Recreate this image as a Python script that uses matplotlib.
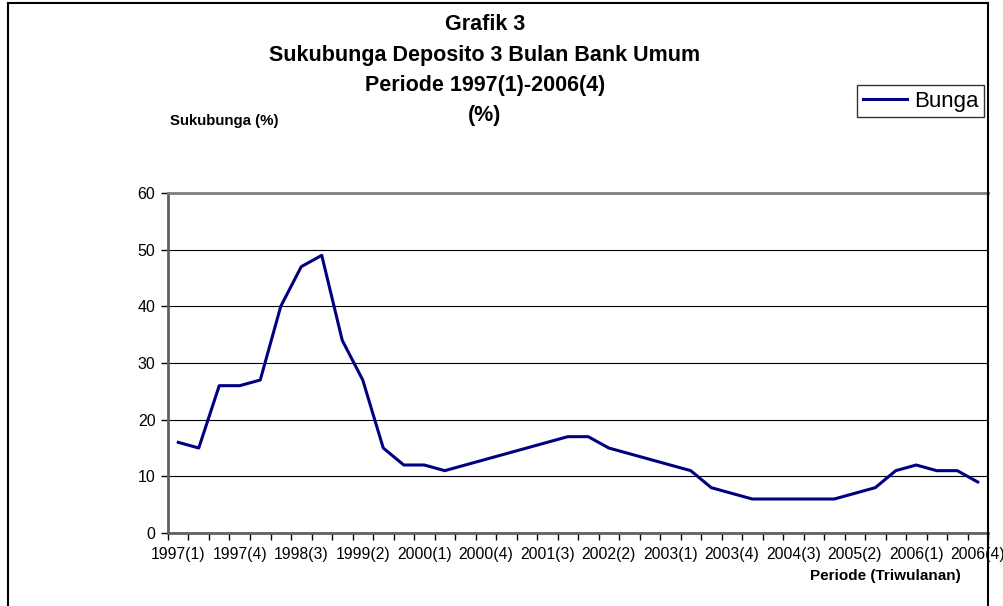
import matplotlib
matplotlib.use("Agg")
import matplotlib.pyplot as plt
from matplotlib.lines import Line2D

plt.rcParams["font.family"] = ["Liberation Sans", "DejaVu Sans"]

# quarterly 3-month deposit rate, 1997(1) .. 2006(4)
quarters = [f"{y}({q})" for y in range(1997, 2007) for q in range(1, 5)]
bunga = [16, 15, 26, 26, 27, 40, 47, 49, 34, 27,
         15, 12, 12, 11, 12, 13, 14, 15, 16, 17,
         17, 15, 14, 13, 12, 11, 8, 7, 6, 6,
         6, 6, 6, 7, 8, 11, 12, 11, 11, 9]
label_every = 3
y_ticks = [0, 10, 20, 30, 40, 50, 60]

W, H = 1004, 606
fig = plt.figure(figsize=(W / 100, H / 100), dpi=100)

# plot area in pixel terms: left 168, right 988, top 193, bottom 533
ax = fig.add_axes([168 / W, (H - 533) / H, 820 / W, 340 / H])

x = list(range(len(bunga)))
ax.plot(x, bunga, color="#000080", linewidth=2.2, label="Bunga", zorder=3)

ax.set_xlim(-0.5, len(bunga) - 0.5)
ax.set_ylim(0, 60)
ax.set_yticks(y_ticks)
ax.yaxis.grid(True, color="black", linewidth=0.8)
ax.set_axisbelow(True)

# tick marks at category boundaries, labels at every third category
ax.set_xticks([i - 0.5 for i in range(len(bunga) + 1)])
ax.set_xticklabels([])
ax.tick_params(axis="x", which="major", length=5, width=1, direction="out", color="black")
centers = x[::label_every]
ax.set_xticks(centers, [quarters[i] for i in centers], minor=True)
ax.tick_params(axis="x", which="minor", length=0, pad=10, labelsize=11.3)
ax.tick_params(axis="y", length=5, width=1, direction="out", labelsize=11.5, pad=4)

for side in ("left", "bottom"):
    ax.spines[side].set_color("#606060")
    ax.spines[side].set_linewidth(2)
ax.spines["top"].set_color("#808080")
ax.spines["top"].set_linewidth(2)
ax.spines["right"].set_visible(False)

# chart frame
frame_kw = dict(color="black", linewidth=1.5, transform=fig.transFigure)
fig.add_artist(Line2D([8 / W, 8 / W], [0, 1 - 3 / H], **frame_kw))
fig.add_artist(Line2D([8 / W, 988 / W], [1 - 3 / H, 1 - 3 / H], **frame_kw))
fig.add_artist(Line2D([988 / W, 988 / W], [0, 1 - 3 / H], **frame_kw))

title_lines = [("Grafik 3", 25),
               ("Sukubunga Deposito 3 Bulan Bank Umum", 55),
               ("Periode 1997(1)-2006(4)", 86),
               ("(%)", 116)]
for txt, py in title_lines:
    fig.text(485 / W, 1 - py / H, txt, ha="center", va="center",
             fontsize=15.5, fontweight="bold")

fig.text(170 / W, 1 - 121 / H, "Sukubunga (%)", ha="left", va="center",
         fontsize=10.8, fontweight="bold")
fig.text(961 / W, 1 - 576 / H, "Periode (Triwulanan)", ha="right", va="center",
         fontsize=11, fontweight="bold")

leg = fig.legend(loc="upper right", bbox_to_anchor=(984 / W, 1 - 85 / H),
                 borderaxespad=0, fancybox=False, edgecolor="black",
                 fontsize=16, handlelength=2.0, handletextpad=0.3,
                 borderpad=0.25)
leg.get_frame().set_linewidth(1)

fig.savefig("out.png", dpi=100)
